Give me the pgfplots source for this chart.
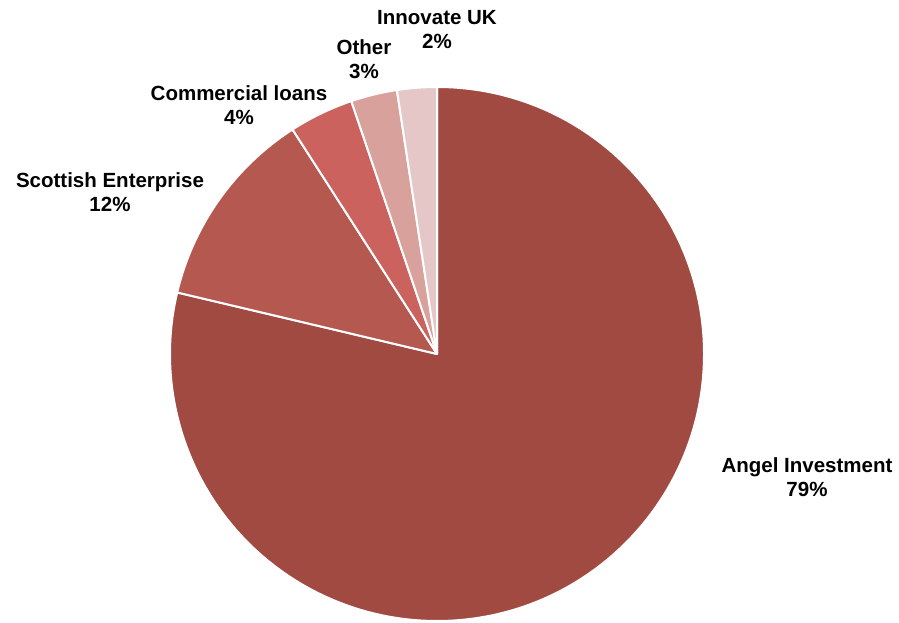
\documentclass[border=0pt]{standalone}
\usepackage{pgfplots}
\usepackage{pgfplotstable}
\usepackage{fontspec}
\setmainfont{Liberation Sans}
\pgfplotsset{compat=1.18}
\definecolor{pie0}{RGB}{160,74,66}
\definecolor{pie1}{RGB}{181,88,80}
\definecolor{pie2}{RGB}{204,98,94}
\definecolor{pie3}{RGB}{217,161,155}
\definecolor{pie4}{RGB}{230,199,200}
\pgfplotstableread{
value
78.7
12.2
3.9
2.8
2.4
}\piedata
\gdef\cum{0}%
\foreach \i in {0,...,4}{%
  \pgfplotstablegetelem{\i}{value}\of\piedata%
  \pgfmathsetmacro\s{90-3.6*\cum}%
  \pgfmathsetmacro\e{\s-3.6*\pgfplotsretval}%
  \expandafter\xdef\csname pieS\i\endcsname{\s}%
  \expandafter\xdef\csname pieE\i\endcsname{\e}%
  \pgfmathsetmacro\newcum{\cum+\pgfplotsretval}%
  \xdef\cum{\newcum}%
}%
\begin{document}%
\begin{tikzpicture}
\begin{axis}[name=ax,width=899pt,height=623pt,scale only axis,
  xmin=0,xmax=899,ymin=0,ymax=623,axis lines=none,clip=false]
\pgfplotsinvokeforeach{0,...,4}{
  \fill[pie#1, draw=white, line width=2pt, line join=round]
    (axis cs:437,269) -- ++(\csname pieS#1\endcsname:267pt)
    arc[start angle=\csname pieS#1\endcsname, end angle=\csname pieE#1\endcsname, radius=267pt] -- cycle;
}
\begin{scope}[every node/.style={align=center, font=\bfseries\fontsize{20.5}{24}\selectfont}]
\node at (axis cs:807,146) {Angel Investment\\79\%};
\node at (axis cs:110,431) {Scottish Enterprise\\12\%};
\node at (axis cs:239,518) {Commercial loans\\4\%};
\node at (axis cs:364,564) {Other\\3\%};
\node at (axis cs:437,593) {Innovate UK\\2\%};
\end{scope}
\end{axis}
\pgfresetboundingbox
\path[use as bounding box] (ax.south west) rectangle (ax.north east);
\end{tikzpicture}%
\end{document}
